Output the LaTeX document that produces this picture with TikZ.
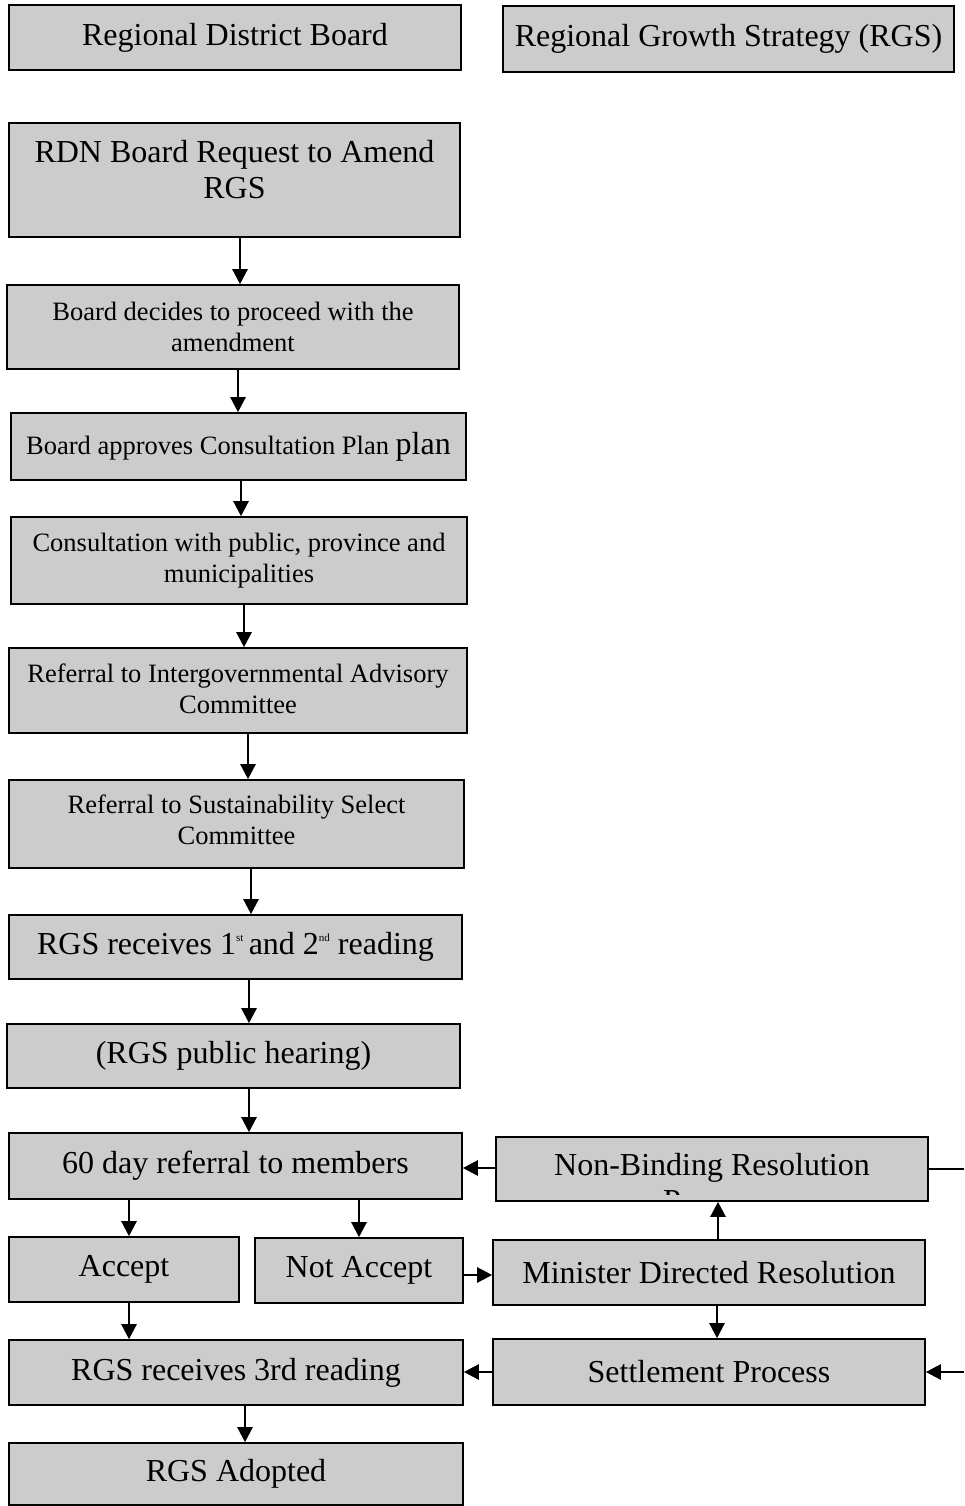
\documentclass[tikz,border=0pt]{standalone}
\usepackage{fontspec}
\setmainfont{Liberation Serif}
\usetikzlibrary{arrows.meta}
\definecolor{boxgray}{HTML}{CCCCCC}
\tikzset{
 box/.style={draw=black, line width=1.6pt, fill=boxgray, inner sep=0pt, align=center},
 big/.style={font=\fontsize{32}{36}\selectfont},
 small/.style={font=\fontsize{26.5}{31}\selectfont},
 arr/.style={line width=2.4pt, -{Triangle[length=15pt,width=15pt]}},
 ln/.style={line width=2.4pt}
}
\newcommand\bx[7]{%
 \pgfmathsetmacro\bxw{#5-#3}\pgfmathsetmacro\bxh{#6-#4}%
 \node[box,#2, minimum width=\bxw pt, minimum height=\bxh pt] (#1) at ({(#3+#5)/2},{(#4+#6)/2}) {#7};}
\newcommand\supr[1]{\raisebox{0.42em}{\fontsize{11}{11}\selectfont #1}}
\begin{document}
\begin{tikzpicture}[x=1pt,y=-1pt]
\useasboundingbox (0,0) rectangle (964,1506);
\bx{rdb}{big}{9}{5}{461}{70}{Regional District Board}
\bx{rgs}{big}{503}{6}{954}{72}{Regional Growth Strategy (RGS)}
\bx{req}{big}{9}{123}{460}{237}{}
\node[big, align=center] (reqt) at ([yshift=10pt]req.center) {RDN Board Request to Amend\\RGS};
\bx{dec}{small}{7}{285}{459}{369}{Board decides to proceed with the\\amendment}
\bx{app}{small}{11}{413}{466}{480}{Board approves Consultation Plan {\fontsize{32}{36}\selectfont plan}}
\bx{con}{small}{11}{517}{467}{604}{Consultation with public, province and\\municipalities}
\bx{iac}{small}{9}{648}{467}{733}{}
\node[small, align=center] (iact) at ([yshift=2pt]iac.center) {Referral to Intergovernmental Advisory\\Committee};
\bx{ssc}{small}{9}{780}{464}{868}{}
\node[small, align=center] (ssct) at ([yshift=4pt]ssc.center) {Referral to Sustainability Select\\Committee};
\bx{r12}{big}{9}{915}{462}{979}{RGS receives 1\supr{st}\,and 2\supr{nd} reading}
\bx{ph}{big}{7}{1024}{460}{1088}{(RGS public hearing)}
\bx{ref}{big}{9}{1133}{462}{1199}{60 day referral to members}
\bx{acc}{big}{9}{1237}{239}{1302}{Accept}
\bx{nac}{big}{255}{1238}{463}{1303}{Not Accept}
\bx{r3}{big}{9}{1340}{463}{1405}{RGS receives 3rd reading}
\bx{ado}{big}{9}{1443}{463}{1505}{RGS Adopted}
\bx{nb}{big}{496}{1137}{928}{1201}{}
\node[big, anchor=base] (nbt) at (712,1175) {Non-Binding Resolution};
\begin{scope}
\clip (496,1140) rectangle (928,1194);
\node[big, anchor=base] (nbp) at (712,1211) {Process};
\end{scope}
\bx{mdr}{big}{493}{1240}{925}{1305}{Minister Directed Resolution}
\bx{sp}{big}{493}{1339}{925}{1405}{Settlement Process}
\coordinate (e1) at (964,1169);
\coordinate (e2) at (964,1372);
\draw[arr] (req.south -| 240,0) -- (dec.north -| 240,0);
\draw[arr] (dec.south -| 238,0) -- (app.north -| 238,0);
\draw[arr] (app.south -| 241,0) -- (con.north -| 241,0);
\draw[arr] (con.south -| 244,0) -- (iac.north -| 244,0);
\draw[arr] (iac.south -| 248,0) -- (ssc.north -| 248,0);
\draw[arr] (ssc.south -| 251,0) -- (r12.north -| 251,0);
\draw[arr] (r12.south -| 249,0) -- (ph.north -| 249,0);
\draw[arr] (ph.south -| 249,0) -- (ref.north -| 249,0);
\draw[arr] (ref.south -| 129,0) -- (acc.north -| 129,0);
\draw[arr] (ref.south -| 359,0) -- (nac.north -| 359,0);
\draw[arr] (acc.south -| 129,0) -- (r3.north -| 129,0);
\draw[arr] (r3.south -| 245,0) -- (ado.north -| 245,0);
\draw[arr] (nb.west |- 0,1168) -- (ref.east |- 0,1168);
\draw[ln] (nb.east) -- (e1);
\draw[arr] (mdr.north -| 718,0) -- (nb.south -| 718,0);
\draw[arr] (nac.east |- 0,1275) -- (mdr.west |- 0,1275);
\draw[arr] (mdr.south -| 717,0) -- (sp.north -| 717,0);
\draw[arr] (sp.west) -- (r3.east |- sp.west);
\draw[arr] (e2) -- (sp.east |- e2);
\end{tikzpicture}
\end{document}
